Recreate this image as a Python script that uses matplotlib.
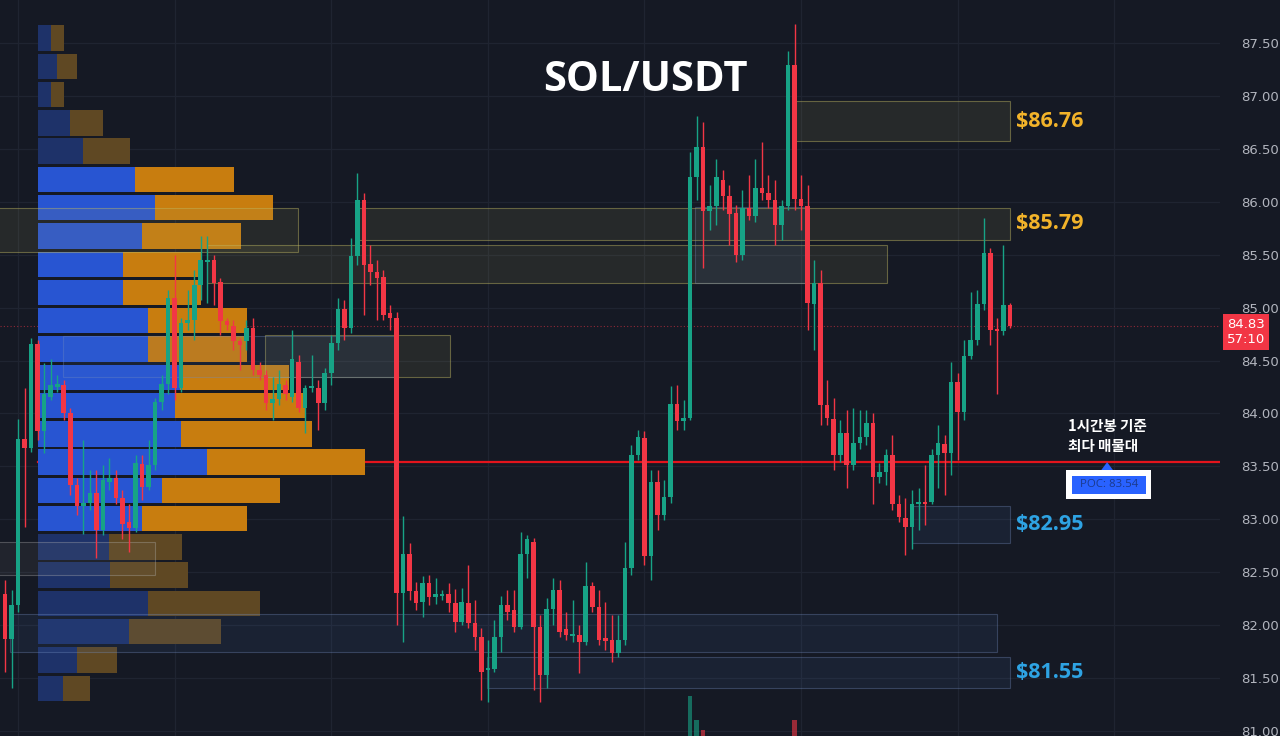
import numpy as np
import matplotlib.pyplot as plt
import matplotlib.transforms as mtransforms
from matplotlib.patches import Rectangle, Polygon

plt.rcParams['font.family'] = ['Open Sans', 'DejaVu Sans']

# 1h candles, SOL/USDT
opens = [82.29, 81.87, 82.19, 83.76, 83.67, 84.66, 83.83, 84.16, 84.25, 84.27,
         84.00, 83.32, 83.13, 83.15, 83.25, 82.90, 83.35, 83.39, 83.20, 82.97,
         82.92, 83.52, 83.31, 83.51, 84.11, 84.28, 85.09, 84.24, 84.85, 84.88,
         85.21, 85.43, 85.45, 85.24, 84.87, 84.83, 84.68, 84.68, 84.81, 84.41,
         84.36, 84.10, 84.14, 84.27, 84.16, 84.49, 84.05, 84.24, 84.24, 84.10,
         84.38, 84.67, 84.99, 84.81, 85.49, 86.02, 85.41, 85.34, 85.29, 84.95,
         84.90, 82.30, 82.67, 82.32, 82.22, 82.40, 82.27, 82.28, 82.29, 82.21,
         82.03, 82.21, 82.02, 81.89, 81.58, 81.59, 81.89, 82.19, 82.14, 81.98,
         82.67, 82.79, 81.98, 81.53, 82.15, 82.33, 81.96, 81.90, 81.91, 81.84,
         82.37, 82.17, 81.88, 81.86, 81.74, 81.86, 82.54, 83.61, 83.77, 82.65,
         83.35, 83.04, 83.21, 84.09, 83.93, 83.96, 86.23, 86.52, 85.91, 85.96,
         86.21, 86.05, 85.89, 85.50, 85.94, 85.87, 86.13, 86.08, 86.02, 85.78,
         85.96, 87.29, 86.03, 85.96, 85.03, 85.23, 84.08, 83.95, 83.61, 83.82,
         83.51, 83.72, 83.78, 83.91, 83.40, 83.45, 83.61, 83.14, 83.01, 82.93,
         83.14, 83.16, 83.16, 83.61, 83.71, 83.63, 84.30, 84.01, 84.54, 84.69,
         85.03, 85.52, 84.80, 84.78, 85.02]
highs = [82.43, 82.33, 83.95, 84.24, 84.71, 84.69, 84.48, 84.51, 84.36, 84.32,
         84.05, 83.39, 83.75, 83.47, 83.47, 83.51, 83.58, 83.47, 83.28, 83.14,
         83.61, 83.61, 83.75, 84.15, 84.36, 85.17, 85.50, 84.90, 85.17, 85.36,
         85.68, 85.68, 85.50, 85.28, 84.90, 84.88, 84.71, 84.88, 84.90, 84.49,
         84.41, 84.34, 84.41, 84.32, 84.79, 84.55, 84.27, 84.55, 84.32, 84.43,
         84.74, 85.09, 85.07, 85.66, 86.27, 86.08, 85.59, 85.45, 85.36, 85.02,
         84.96, 83.03, 82.78, 82.41, 82.46, 82.47, 82.45, 82.33, 82.40, 82.34,
         82.35, 82.57, 82.24, 81.97, 81.86, 82.05, 82.28, 82.33, 82.33, 82.88,
         82.85, 82.82, 82.10, 82.26, 82.45, 82.43, 82.12, 82.24, 82.00, 82.60,
         82.41, 82.33, 82.22, 82.10, 82.10, 82.79, 83.70, 83.84, 83.83, 83.47,
         83.47, 83.37, 84.26, 84.27, 84.13, 86.47, 86.81, 86.75, 86.16, 86.40,
         86.30, 86.16, 85.97, 86.11, 86.25, 86.40, 86.56, 86.25, 86.21, 86.02,
         87.42, 87.68, 86.25, 86.16, 85.45, 85.36, 84.32, 84.15, 83.94, 84.03,
         84.05, 84.03, 84.03, 84.00, 83.53, 83.66, 83.80, 83.23, 83.20, 83.28,
         83.30, 83.51, 83.66, 83.89, 83.80, 84.49, 84.38, 84.69, 85.15, 85.17,
         85.85, 85.56, 84.90, 85.59, 85.04]
lows = [81.56, 81.41, 82.12, 82.93, 83.64, 83.75, 83.63, 84.13, 84.20, 83.94,
        83.23, 83.04, 82.86, 83.09, 82.63, 82.85, 83.28, 83.14, 82.81, 82.69,
        82.88, 83.18, 83.28, 83.47, 84.03, 84.18, 84.13, 84.20, 84.79, 84.69,
        85.07, 85.04, 85.02, 84.74, 84.79, 84.60, 84.41, 84.60, 84.36, 84.32,
        84.03, 83.94, 84.08, 84.13, 84.11, 84.01, 83.82, 84.20, 83.84, 84.03,
        84.27, 84.60, 84.69, 84.76, 85.40, 84.93, 85.21, 84.88, 84.88, 84.79,
        82.00, 81.84, 82.24, 82.14, 82.08, 82.19, 82.20, 82.24, 82.12, 81.94,
        82.00, 81.97, 81.77, 81.29, 81.27, 81.56, 81.75, 82.05, 81.94, 81.96,
        82.45, 81.39, 81.27, 81.41, 82.00, 81.89, 81.86, 81.84, 81.55, 81.81,
        82.12, 81.81, 81.77, 81.65, 81.70, 81.81, 82.47, 83.56, 82.57, 82.43,
        82.90, 82.99, 83.15, 83.84, 83.84, 83.94, 86.02, 85.37, 85.73, 85.78,
        85.92, 85.59, 85.43, 85.45, 85.83, 85.81, 86.02, 85.94, 85.59, 85.64,
        85.92, 85.92, 85.73, 84.79, 84.60, 83.89, 83.89, 83.47, 83.54, 83.30,
        83.47, 83.66, 83.70, 83.14, 83.34, 83.32, 83.09, 82.97, 82.66, 82.72,
        82.90, 82.95, 83.14, 83.30, 83.23, 83.42, 83.56, 83.94, 84.51, 84.65,
        84.98, 84.65, 84.18, 84.74, 84.81]
closes = [81.87, 82.19, 83.76, 83.67, 84.66, 83.83, 84.18, 84.27, 84.28, 84.00,
          83.32, 83.13, 83.15, 83.25, 82.90, 83.37, 83.39, 83.20, 82.96, 82.92,
          83.53, 83.31, 83.51, 84.11, 84.28, 85.09, 84.24, 84.85, 84.88, 85.21,
          85.45, 85.45, 85.23, 84.87, 84.84, 84.68, 84.65, 84.81, 84.41, 84.36,
          84.10, 84.14, 84.28, 84.18, 84.51, 84.05, 84.24, 84.26, 84.10, 84.38,
          84.67, 84.99, 84.81, 85.49, 86.02, 85.40, 85.34, 85.28, 84.93, 84.90,
          82.30, 82.67, 82.32, 82.21, 82.40, 82.27, 82.29, 82.29, 82.21, 82.03,
          82.22, 82.02, 81.89, 81.56, 81.60, 81.89, 82.19, 82.12, 81.98, 82.67,
          82.81, 81.98, 81.53, 82.15, 82.33, 81.94, 81.91, 81.91, 81.84, 82.37,
          82.17, 81.86, 81.85, 81.74, 81.86, 82.54, 83.61, 83.78, 82.65, 83.35,
          83.04, 83.21, 84.09, 83.93, 83.96, 86.23, 86.52, 85.91, 85.96, 86.23,
          86.05, 85.88, 85.50, 85.94, 85.87, 86.13, 86.08, 86.02, 85.78, 85.96,
          87.29, 86.03, 85.96, 85.04, 85.23, 84.08, 83.96, 83.61, 83.82, 83.51,
          83.72, 83.78, 83.91, 83.40, 83.45, 83.61, 83.14, 83.02, 82.93, 83.14,
          83.16, 83.14, 83.61, 83.72, 83.63, 84.30, 84.01, 84.54, 84.69, 85.03,
          85.52, 84.79, 84.78, 85.02, 84.83]

# visible volume bars (only the tallest ones poke above the bottom edge)
vol_idx = [105, 106, 107, 121]
vol_val = [40, 16, 6, 16]

# volume profile, bottom row -> top row
prof_up = [25, 39, 91, 110, 72, 71, 104, 124, 169, 143, 137, 142,
           110, 110, 85, 85, 104, 117, 97, 45, 32, 13, 19, 13]
prof_down = [27, 40, 92, 112, 78, 73, 105, 118, 158, 131, 130, 109,
             99, 99, 78, 78, 99, 118, 99, 47, 33, 13, 20, 13]

# supply / demand boxes (candle index range, price range)
box_start = [-1, 31.0, 39.8, 8.9, 0.8, -1, 105.7]
box_end = [44.9, 135.2, 68.2, 59.8, 152.0, 23.0, 122.6]
box_low = [85.53, 85.23, 84.34, 84.34, 81.75, 82.47, 85.23]
box_high = [85.94, 85.59, 84.74, 84.73, 82.11, 82.79, 85.95]
box_kind = ['y', 'y', 'y', 'b', 'b', 'g', 'b']

# labelled zones
zone_start = [121.1, 53.9, 139.0, 73.9]
zone_low = [86.57, 85.64, 82.78, 81.41]
zone_high = [86.95, 85.94, 83.13, 81.70]
zone_label = ['$86.76', '$85.79', '$82.95', '$81.55']
zone_kind = ['y', 'y', 'b', 'b']

BG = '#151924'
UP = '#17a386'
DN = '#f23645'
GRID = '#1f2431'
box_fc = {'y': (0.62, 0.6, 0.35, 0.13), 'b': (0.3, 0.45, 0.75, 0.10), 'g': (0.55, 0.55, 0.5, 0.10)}
box_ec = {'y': (0.75, 0.72, 0.38, 0.45), 'b': (0.45, 0.55, 0.75, 0.35), 'g': (0.7, 0.7, 0.7, 0.35)}
label_col = {'y': '#f2b32a', 'b': '#2ea3e3'}

o = np.array(opens)
h = np.array(highs)
l = np.array(lows)
c = np.array(closes)
x = np.arange(len(o))

fig = plt.figure(figsize=(12.8, 7.36), dpi=100, facecolor=BG)
ax = fig.add_axes([0, 0, 1220 / 1280, 1])
ax.set_facecolor(BG)
ax.set_autoscale_on(False)
ax.set_xlim(-0.77, 186.2)
ax.set_ylim(80.953, 87.906)

# grid
ax.set_yticks(np.arange(81.0, 87.51, 0.5))
ax.yaxis.set_major_formatter(plt.FuncFormatter(lambda v, p: f'{v:.2f}'))
ax.grid(axis='y', color=GRID, lw=0.9, zorder=0)
for gx in x[2::24]:
    ax.axvline(gx, color=GRID, lw=0.9, zorder=0)
ax.axvline(170, color=GRID, lw=0.9, zorder=0)

trans = mtransforms.blended_transform_factory(ax.transAxes, ax.transData)
trans_v = mtransforms.blended_transform_factory(ax.transData, ax.transAxes)

# volume profile
nb = len(prof_up)
edges = np.linspace(l.min(), h.max(), nb + 1)
step = edges[1] - edges[0]
tot = np.array(prof_up) + np.array(prof_down)
poc_i = int(np.argmax(tot))
poc = edges[poc_i] + step / 2

# value area (70%)
lo_i, hi_i = poc_i, poc_i
acc = tot[poc_i]
while acc < 0.7 * tot.sum():
    above = tot[hi_i + 1] if hi_i + 1 < nb else -1
    below = tot[lo_i - 1] if lo_i - 1 >= 0 else -1
    if above >= below:
        hi_i += 1
        acc += above
    else:
        lo_i -= 1
        acc += below

px = 1 / 1220
left0 = 38 * px
for i in range(nb):
    inside = lo_i <= i <= hi_i
    cu = '#2855d2' if inside else '#1e3269'
    cd = '#c87d0f' if inside else '#5f4823'
    y0 = edges[i] + step * 0.05
    hh = step * 0.9
    ax.add_patch(Rectangle((left0, y0), prof_up[i] * px, hh, transform=trans,
                           fc=cu, ec='none', zorder=2))
    ax.add_patch(Rectangle((left0 + prof_up[i] * px, y0), prof_down[i] * px, hh,
                           transform=trans, fc=cd, ec='none', zorder=2))

# POC line + current price line
ax.plot([left0, 1], [poc, poc], transform=trans, color='#e3141c', lw=1.6, zorder=1.9)
ax.axhline(c[-1], color=DN, lw=0.8, ls=(0, (1, 2)), alpha=0.55, zorder=1)

# boxes
for x0, x1, lo, hi, k in zip(box_start, box_end, box_low, box_high, box_kind):
    ax.add_patch(Rectangle((x0, lo), x1 - x0, hi - lo, fc=box_fc[k], ec=box_ec[k],
                           lw=0.8, zorder=3))
for x0, lo, hi, txt, k in zip(zone_start, zone_low, zone_high, zone_label, zone_kind):
    ax.add_patch(Rectangle((x0, lo), x[-1] - x0, hi - lo, fc=box_fc[k], ec=box_ec[k],
                           lw=0.8, zorder=3))
    ax.text(x[-1] + 1, (lo + hi) / 2, txt, color=label_col[k], fontsize=15.5,
            fontweight='bold', va='center', ha='left', zorder=8)

# candles
col = np.where(c >= o, UP, DN)
ax.vlines(x, l, h, colors=col, lw=1, zorder=4)
ax.bar(x, np.maximum(np.abs(c - o), 0.012), 0.7, bottom=np.minimum(o, c),
       color=col, linewidth=0, zorder=5)

# volume bars at the bottom
for vi, vv in zip(vol_idx, vol_val):
    vc = UP if c[vi] >= o[vi] else DN
    ax.add_patch(Rectangle((vi - 0.35, 0), 0.7, vv / 736, transform=trans_v,
                           fc=vc, ec='none', alpha=0.6, zorder=2))

# title
ax.text(0.5287, 0.89, 'SOL/USDT', transform=ax.transAxes, ha='center', va='center',
        color='white', fontsize=30, fontweight='bold', zorder=9)

# POC callout
ax.text(162.9, poc + 0.25, '1시간봉 기준\n최다 매물대', color='white', fontsize=10.5,
        fontweight='bold', family=['Noto Sans CJK KR', 'DejaVu Sans'],
        va='center', ha='left', linespacing=1.3, zorder=9)
ax.add_patch(Polygon([[168.9, poc], [168.0, poc - 0.075], [169.8, poc - 0.075]],
                     closed=True, fc='#2962ff', ec='none', zorder=9))
ax.add_patch(Rectangle((162.6, poc - 0.35), 13.0, 0.28, fc='white', ec='none', zorder=9))
ax.add_patch(Rectangle((163.5, poc - 0.30), 11.3, 0.17, fc='#2962ff', ec='none', zorder=10))
ax.text(169.15, poc - 0.215, f'POC: {poc:.2f}', color='#1b3a8c', fontsize=8.2,
        ha='center', va='center', zorder=11)

# last price tag on the scale
ax.text(1 + 26 / 1220, c[-1] - 0.06, f'{c[-1]:.2f}\n57:10', transform=trans,
        ha='center', va='center', color='white', fontsize=9.5, linespacing=1.15,
        family=['DejaVu Sans'],
        bbox=dict(boxstyle='square,pad=0.3', fc=DN, ec='none'), clip_on=False, zorder=12)

for s in ax.spines.values():
    s.set_visible(False)
ax.set_xticks([])
ax.tick_params(axis='y', left=False, right=False, labelleft=False, labelright=True,
               pad=12, labelcolor='#b2b5be', labelsize=9.5)
for t in ax.get_yticklabels():
    t.set_family('DejaVu Sans')

fig.savefig('out.png', dpi=100, facecolor=BG)
